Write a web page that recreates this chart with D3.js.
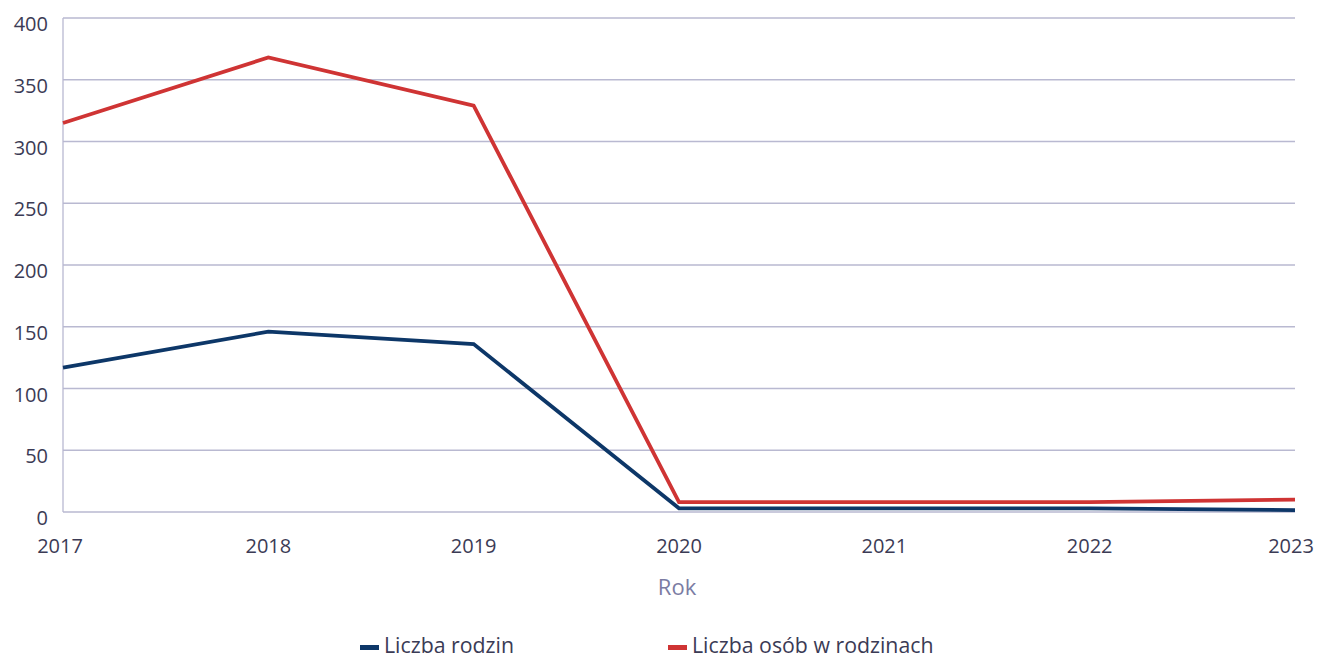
<!DOCTYPE html>
<html><head><meta charset="utf-8">
<script src="https://cdn.jsdelivr.net/npm/d3@7"></script>
<style>body{margin:0;background:#fff}svg{display:block}text{font-family:"Open Sans","Noto Sans",sans-serif}</style>
</head><body>
<svg id="c" width="1318" height="658"></svg>
<script>
const years = ["2017","2018","2019","2020","2021","2022","2023"];
const rodziny = [117, 146, 136, 3, 3, 3, 1.5];
const osoby = [315, 368, 329, 8, 8, 8, 10];
const yTicks = [0, 50, 100, 150, 200, 250, 300, 350, 400];
const seriesNames = ["Liczba rodzin", "Liczba osób w rodzinach"];
const colors = ["#0d3768", "#cf3434"];
const xTitle = "Rok";

const svg = d3.select("#c");
const x = d3.scalePoint().domain(years).range([63, 1295]);
const y = d3.scaleLinear().domain([0, 400]).range([512, 18]);

// gridlines
svg.append("g").selectAll("line").data(yTicks).join("line")
  .attr("x1", 63).attr("x2", 1295)
  .attr("y1", d => y(d)).attr("y2", d => y(d))
  .attr("stroke", "#b9b9d1").attr("stroke-width", 1.3);
svg.append("line").attr("x1", 63).attr("x2", 63).attr("y1", y(400)).attr("y2", y(0))
  .attr("stroke", "#b9b9d1").attr("stroke-width", 1.3);

// y labels
svg.append("g").selectAll("text").data(yTicks).join("text")
  .attr("x", 48).attr("y", d => y(d) + 13)
  .attr("text-anchor", "end").attr("font-size", 20).attr("fill", "#3b3b55")
  .text(d => d);

// x labels
svg.append("g").selectAll("text").data(years).join("text")
  .attr("x", (d, i) => x(d) + (i === 0 ? -3 : (i === years.length - 1 ? -4 : 0)))
  .attr("y", 553)
  .attr("text-anchor", "middle").attr("font-size", 20).attr("fill", "#3b3b55")
  .text(d => d);

svg.append("text").attr("x", 677).attr("y", 595).attr("text-anchor", "middle")
  .attr("font-size", 22).attr("fill", "#7b7ca3").text(xTitle);

const line = d3.line().x((d, i) => x(years[i])).y(d => y(d));
[rodziny, osoby].forEach((s, k) => {
  svg.append("path").datum(s).attr("d", line).attr("fill", "none")
    .attr("stroke", colors[k]).attr("stroke-width", 3.8).attr("stroke-linejoin", "miter");
});

// legend
const lx = [360, 668];
seriesNames.forEach((n, k) => {
  svg.append("rect").attr("x", lx[k]).attr("y", 645).attr("width", 19).attr("height", 5).attr("fill", colors[k]);
  svg.append("text").attr("x", lx[k] + 24).attr("y", 653).attr("font-size", 21.3)
    .attr("fill", "#3b3b55").text(n);
});
</script>
</body></html>
